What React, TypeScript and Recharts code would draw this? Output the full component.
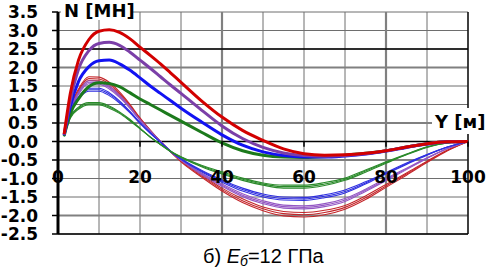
import { LineChart, Line, XAxis, YAxis, CartesianGrid, ReferenceDot, ReferenceLine } from 'recharts'

// Y [м]
const xs = [1.5, 3, 5, 7.5, 10, 12.5, 15, 17.5, 20, 22.5, 25, 27.5, 30, 35, 40, 45, 50, 55, 60, 65, 70, 75, 80, 85, 90, 95, 100]

// thick curves, N [МН]
const redThick = [0.2, 1.3, 2.2, 2.75, 2.98, 3.02, 2.95, 2.78, 2.55, 2.33, 2.1, 1.85, 1.6, 1.1, 0.66, 0.3, 0.03, -0.2, -0.33, -0.37, -0.36, -0.32, -0.25, -0.15, -0.06, -0.01, 0]
const purpleThick = [0.18, 1.1, 1.95, 2.45, 2.65, 2.68, 2.6, 2.42, 2.2, 1.98, 1.75, 1.52, 1.3, 0.85, 0.42, 0.08, -0.16, -0.31, -0.38, -0.4, -0.38, -0.33, -0.25, -0.15, -0.06, -0.01, 0]
const blueThick = [0.17, 0.95, 1.62, 2.02, 2.18, 2.2, 2.1, 1.93, 1.72, 1.5, 1.3, 1.1, 0.9, 0.53, 0.18, -0.1, -0.28, -0.38, -0.42, -0.42, -0.39, -0.34, -0.26, -0.16, -0.07, -0.01, 0]
const greenThick = [0.15, 0.75, 1.15, 1.48, 1.59, 1.57, 1.48, 1.32, 1.15, 1.0, 0.85, 0.7, 0.55, 0.25, -0.04, -0.25, -0.37, -0.42, -0.43, -0.41, -0.37, -0.32, -0.25, -0.15, -0.06, -0.01, 0]

// thin curves, three of each colour
const redA = [0.15, 0.93, 1.42, 1.75, 1.74, 1.6, 1.34, 1.01, 0.64, 0.31, 0.0, -0.29, -0.55, -0.96, -1.34, -1.65, -1.87, -2.01, -2.04, -1.98, -1.83, -1.57, -1.24, -0.91, -0.57, -0.25, 0]
const redB = [0.15, 0.9, 1.38, 1.7, 1.69, 1.55, 1.3, 0.98, 0.62, 0.3, 0.0, -0.28, -0.53, -0.93, -1.3, -1.6, -1.82, -1.95, -1.98, -1.92, -1.78, -1.52, -1.2, -0.88, -0.55, -0.24, 0]
const redC = [0.15, 0.87, 1.34, 1.65, 1.64, 1.5, 1.26, 0.95, 0.6, 0.29, 0.0, -0.27, -0.51, -0.9, -1.26, -1.55, -1.77, -1.89, -1.92, -1.86, -1.73, -1.47, -1.16, -0.85, -0.53, -0.23, 0]
const purpleA = [0.15, 0.87, 1.33, 1.64, 1.63, 1.5, 1.25, 0.94, 0.59, 0.29, 0.0, -0.28, -0.51, -0.89, -1.21, -1.49, -1.68, -1.8, -1.82, -1.76, -1.62, -1.35, -1.06, -0.76, -0.46, -0.19, 0]
const purpleB = [0.15, 0.85, 1.3, 1.6, 1.59, 1.46, 1.22, 0.92, 0.58, 0.28, 0.0, -0.27, -0.5, -0.87, -1.18, -1.45, -1.64, -1.76, -1.78, -1.72, -1.58, -1.32, -1.03, -0.74, -0.45, -0.19, 0]
const purpleC = [0.15, 0.83, 1.27, 1.56, 1.55, 1.42, 1.19, 0.9, 0.57, 0.27, 0.0, -0.26, -0.49, -0.85, -1.15, -1.41, -1.6, -1.72, -1.74, -1.68, -1.54, -1.29, -1.0, -0.72, -0.44, -0.19, 0]
const blueA = [0.15, 0.82, 1.21, 1.44, 1.44, 1.32, 1.1, 0.82, 0.51, 0.24, -0.02, -0.28, -0.48, -0.82, -1.1, -1.34, -1.5, -1.58, -1.59, -1.52, -1.39, -1.15, -0.88, -0.62, -0.37, -0.15, 0]
const blueB = [0.15, 0.8, 1.18, 1.4, 1.4, 1.28, 1.07, 0.8, 0.5, 0.23, -0.02, -0.27, -0.47, -0.8, -1.07, -1.3, -1.46, -1.54, -1.55, -1.48, -1.35, -1.12, -0.86, -0.6, -0.36, -0.15, 0]
const blueC = [0.15, 0.78, 1.15, 1.36, 1.36, 1.24, 1.04, 0.78, 0.49, 0.22, -0.02, -0.26, -0.46, -0.78, -1.04, -1.26, -1.42, -1.5, -1.51, -1.44, -1.31, -1.09, -0.84, -0.58, -0.35, -0.15, 0]
const greenA = [0.14, 0.67, 0.93, 1.05, 1.05, 0.96, 0.8, 0.6, 0.36, 0.12, -0.08, -0.28, -0.43, -0.68, -0.88, -1.05, -1.18, -1.26, -1.26, -1.19, -1.05, -0.83, -0.59, -0.36, -0.16, -0.04, 0]
const greenB = [0.14, 0.65, 0.9, 1.02, 1.02, 0.93, 0.78, 0.58, 0.35, 0.12, -0.08, -0.27, -0.42, -0.66, -0.85, -1.02, -1.15, -1.22, -1.22, -1.15, -1.02, -0.8, -0.57, -0.35, -0.15, -0.04, 0]
const greenC = [0.14, 0.63, 0.87, 0.99, 0.99, 0.9, 0.76, 0.56, 0.34, 0.12, -0.08, -0.26, -0.41, -0.64, -0.82, -0.99, -1.12, -1.18, -1.18, -1.11, -0.99, -0.77, -0.55, -0.34, -0.14, -0.04, 0]

const yTicks = [-2.5, -2, -1.5, -1, -0.5, 0, 0.5, 1, 1.5, 2, 2.5, 3, 3.5]
const xGrid = [0, 10, 20, 30, 40, 50, 60, 70, 80, 90, 100]
const xLabels = [0, 20, 40, 60, 80, 100]

const thin = [
  { key: 'redA', values: redA, color: '#c4262a' },
  { key: 'redB', values: redB, color: '#c4262a' },
  { key: 'redC', values: redC, color: '#c4262a' },
  { key: 'purpleA', values: purpleA, color: '#9457c4' },
  { key: 'purpleB', values: purpleB, color: '#9457c4' },
  { key: 'purpleC', values: purpleC, color: '#9457c4' },
  { key: 'blueA', values: blueA, color: '#2f2fe0' },
  { key: 'blueB', values: blueB, color: '#2f2fe0' },
  { key: 'blueC', values: blueC, color: '#2f2fe0' },
  { key: 'greenA', values: greenA, color: '#2a8a2a' },
  { key: 'greenB', values: greenB, color: '#2a8a2a' },
  { key: 'greenC', values: greenC, color: '#2a8a2a' },
]

const thick = [
  { key: 'greenThick', values: greenThick, color: '#1c7a1c' },
  { key: 'blueThick', values: blueThick, color: '#1212f2' },
  { key: 'purpleThick', values: purpleThick, color: '#7b3fa8' },
  { key: 'redThick', values: redThick, color: '#d20000' },
]

const data = xs.map((x, i) => {
  const row: Record<string, number> = { x }
  for (const s of [...thin, ...thick]) row[s.key] = s.values[i]
  return row
})

const boldFont = '"DejaVu Sans", sans-serif'

export default function App() {
  return (
    <div style={{ position: 'absolute', left: 0, top: 0, width: 486, height: 269, background: '#fff' }}>
      <LineChart width={486} height={269} data={data} margin={{ top: 12, right: 18, bottom: 35, left: 0 }}>
        <CartesianGrid stroke="#6e6e6e" strokeWidth={1} horizontalValues={yTicks} verticalValues={xGrid} />
        <CartesianGrid stroke="#808080" strokeWidth={2.2} horizontalValues={[-2, -0.5, 0.5, 2]} verticalValues={[40, 80]} />
        <CartesianGrid stroke="#000" strokeWidth={1.3} horizontalValues={[-2.5, 0, 2.5]} verticalValues={[100]} />
        <XAxis type="number" dataKey="x" domain={[0, 100]} ticks={xGrid} hide />
        <YAxis
          type="number"
          domain={[-2.5, 3.5]}
          ticks={yTicks}
          interval={0}
          width={58}
          tickFormatter={(v: number) => v.toFixed(1)}
          axisLine={{ stroke: '#000', strokeWidth: 3 }}
          tickLine={{ stroke: '#000', strokeWidth: 1.5 }}
          tickSize={6}
          tickMargin={14}
          tick={{ fill: '#000', fontSize: 17, fontWeight: 700, fontFamily: boldFont }}
        />
        {thin.map((s) => (
          <Line key={s.key} dataKey={s.key} type="monotone" stroke={s.color} strokeWidth={1.1} dot={false} isAnimationActive={false} />
        ))}
        {thick.map((s) => (
          <Line key={s.key} dataKey={s.key} type="monotone" stroke={s.color} strokeWidth={3} dot={false} isAnimationActive={false} />
        ))}
        {xLabels.slice(1).map((v) => (
          <ReferenceLine key={'t' + v} segment={[{ x: v, y: 0 }, { x: v, y: -0.14 }]} stroke="#000" strokeWidth={1.5} />
        ))}
        {xLabels.map((v) => (
          <ReferenceDot
            key={'l' + v}
            x={v}
            y={0}
            r={1}
            fill="none"
            stroke="none"
            label={{ value: String(v), position: 'bottom', offset: 28, fill: '#000', fontSize: 17, fontWeight: 700, fontFamily: boldFont }}
          />
        ))}
      </LineChart>
      <svg width={486} height={269} style={{ position: 'absolute', left: 0, top: 0, pointerEvents: 'none' }}>
        <rect x={61} y={0} width={71} height={20} fill="#fff" />
        <text x={64} y={17} fontSize={18} fontWeight={700} fontFamily={boldFont} fill="#000">N [МН]</text>
        <rect x={432} y={108} width={54} height={26} fill="#fff" />
        <text x={435} y={128} fontSize={18} fontWeight={700} fontFamily={boldFont} fill="#000">Y [м]</text>
        <text x={203} y={263} fontSize={20} fontFamily='"Liberation Sans", Arial, sans-serif' fill="#000">
          б){' '}
          <tspan fontStyle="italic">E</tspan>
          <tspan fontStyle="italic" fontSize={14} dy={3}>б</tspan>
          <tspan dy={-3}>=12 ГПа</tspan>
        </text>
      </svg>
    </div>
  )
}
